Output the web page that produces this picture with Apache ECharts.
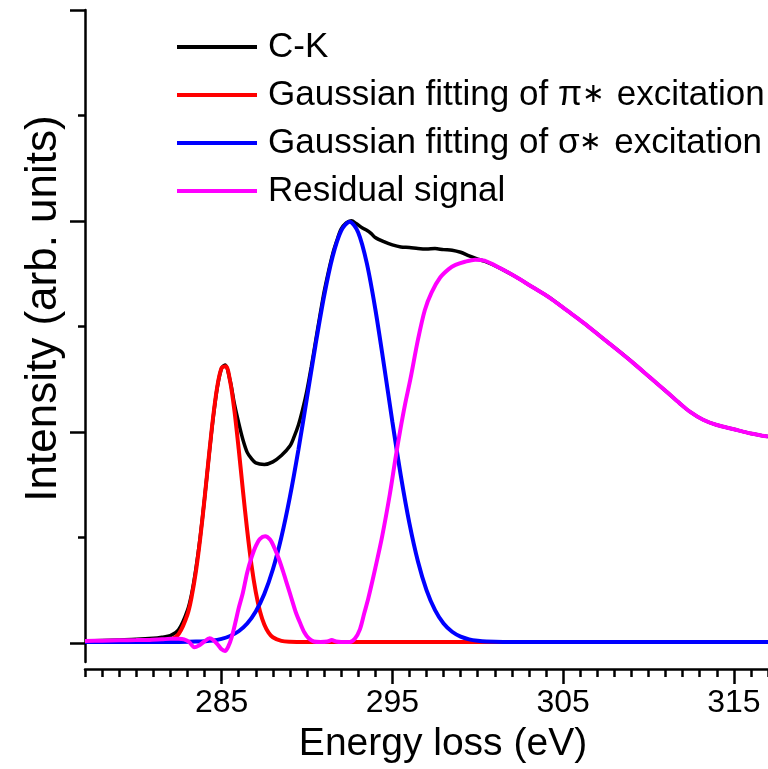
<!DOCTYPE html>
<html>
<head>
<meta charset="utf-8">
<script src="https://cdn.jsdelivr.net/npm/echarts@6/dist/echarts.min.js"></script>
<style>
  html, body { margin: 0; padding: 0; background: #ffffff; }
  #chart { width: 768px; height: 769px; }
</style>
</head>
<body>
<div id="chart"></div>
<script>
// C-K edge EELS spectrum with Gaussian fits of the pi* and sigma* peaks.

const seriesNames = [
  'C-K',
  'Gaussian fitting of \u03c0\u2217 excitation',
  'Gaussian fitting of \u03c3\u2217 excitation',
  'Residual signal'
];
const seriesColors = ['#000000', '#ff0000', '#0000ff', '#ff00ff'];

const xTickLabels = [285, 295, 305, 315];

// Measured C-K edge
const ckEnergy = [277, 278, 279, 280, 281, 281.5, 282, 282.5, 283, 283.25, 283.5, 283.75, 284, 284.25, 284.5, 284.75, 285, 285.2, 285.5, 285.75, 286, 286.25, 286.5, 286.75, 287, 287.5, 288, 288.5, 289, 289.25, 289.5, 289.75, 290, 290.25, 290.5, 290.75, 291, 291.25, 291.5, 291.75, 292, 292.3, 292.6, 292.9, 293.25, 293.5, 293.75, 294, 294.5, 295, 295.5, 296, 296.5, 297, 297.5, 298, 298.5, 299, 299.5, 300, 300.4, 301.3, 302.2, 303.2, 304.2, 305.2, 306.2, 307.2, 308.2, 309.1, 310.1, 311.1, 311.8, 312.4, 313.2, 314, 315, 316, 317];
const ckIntensity = [0.01, 0.015, 0.02, 0.025, 0.035, 0.045, 0.06, 0.12, 0.30, 0.46, 0.70, 1.00, 1.36, 1.75, 2.12, 2.42, 2.60, 2.63, 2.48, 2.26, 2.08, 1.92, 1.80, 1.74, 1.70, 1.685, 1.71, 1.77, 1.86, 1.95, 2.06, 2.21, 2.39, 2.61, 2.85, 3.09, 3.32, 3.51, 3.68, 3.81, 3.92, 3.98, 4.00, 3.97, 3.93, 3.91, 3.88, 3.84, 3.80, 3.77, 3.75, 3.745, 3.735, 3.73, 3.735, 3.725, 3.72, 3.70, 3.665, 3.635, 3.615, 3.55, 3.47, 3.37, 3.27, 3.15, 3.03, 2.90, 2.77, 2.65, 2.51, 2.37, 2.27, 2.19, 2.11, 2.06, 2.02, 1.98, 1.95];

// pi* Gaussian
const piEnergy = [277, 281, 281.5, 282, 282.5, 283, 283.25, 283.5, 283.75, 284, 284.25, 284.5, 284.75, 285, 285.25, 285.5, 285.75, 286, 286.25, 286.5, 286.75, 287, 287.25, 287.5, 287.75, 288, 288.5, 289, 290, 317];
const piIntensity = [0, 0.001, 0.003, 0.018, 0.079, 0.261, 0.433, 0.674, 0.987, 1.358, 1.754, 2.130, 2.428, 2.601, 2.617, 2.474, 2.197, 1.833, 1.436, 1.058, 0.731, 0.475, 0.290, 0.166, 0.089, 0.045, 0.010, 0.002, 0, 0];

// sigma* Gaussian
const sigmaEnergy = [277, 282.5, 283.5, 284.5, 285, 285.5, 286, 286.5, 287, 287.5, 288, 288.5, 289, 289.5, 290, 290.5, 291, 291.5, 292, 292.5, 293, 293.5, 294, 294.5, 295, 295.5, 296, 296.5, 297, 297.5, 298, 298.5, 299, 299.5, 300, 300.5, 301.5, 317];
const sigmaIntensity = [0, 0.001, 0.004, 0.015, 0.030, 0.057, 0.102, 0.175, 0.289, 0.456, 0.688, 0.995, 1.378, 1.827, 2.319, 2.819, 3.282, 3.658, 3.904, 3.99, 3.888, 3.599, 3.163, 2.639, 2.092, 1.575, 1.126, 0.764, 0.492, 0.302, 0.175, 0.097, 0.051, 0.025, 0.012, 0.005, 0.001, 0];

// Residual after removing both Gaussians
const residualEnergy = [277, 278, 279, 280, 280.8, 281.5, 282, 282.5, 282.8, 283.1, 283.4, 283.7, 283.95, 284.3, 284.5, 284.75, 285, 285.2, 285.4, 285.6, 285.8, 286, 286.25, 286.5, 286.75, 287, 287.25, 287.55, 287.85, 288.1, 288.35, 288.6, 288.85, 289.1, 289.35, 289.6, 289.85, 290.1, 290.4, 290.8, 291.2, 291.45, 291.7, 292, 292.5, 292.8, 293.1, 293.35, 293.6, 294, 294.4, 294.85, 295.2, 295.45, 295.75, 296.05, 296.5, 296.9, 297.3, 297.8, 298.3, 298.7, 299.25, 299.85, 300.4, 301.3, 302.2, 303.2, 304.2, 305.2, 306.2, 307.2, 308.2, 309.1, 310.1, 311.1, 311.8, 312.4, 313.2, 314, 315, 316, 317];
const residualIntensity = [0.01, 0.012, 0.016, 0.018, 0.02, 0.025, 0.03, 0.03, 0.025, 0.0, -0.05, -0.03, 0.0, 0.035, 0.02, -0.02, -0.07, -0.085, -0.04, 0.05, 0.18, 0.32, 0.47, 0.66, 0.80, 0.91, 0.98, 1.005, 0.97, 0.89, 0.79, 0.67, 0.54, 0.41, 0.28, 0.18, 0.09, 0.035, 0.005, 0.0, 0.005, 0.018, 0.005, 0.0, 0.0, 0.03, 0.12, 0.27, 0.42, 0.70, 1.00, 1.40, 1.76, 2.00, 2.26, 2.49, 2.87, 3.15, 3.32, 3.46, 3.54, 3.58, 3.61, 3.63, 3.62, 3.55, 3.47, 3.37, 3.27, 3.15, 3.03, 2.90, 2.77, 2.65, 2.51, 2.37, 2.27, 2.19, 2.11, 2.06, 2.02, 1.98, 1.95];

const zip = (xs, ys) => xs.map((x, i) => [x, ys[i]]);
const curves = [
  zip(ckEnergy, ckIntensity),
  zip(piEnergy, piIntensity),
  zip(sigmaEnergy, sigmaIntensity),
  zip(residualEnergy, residualIntensity)
];
const lineWidths = [3.5, 4, 4, 4];

const FONT = '"Liberation Sans", Arial, Helvetica, sans-serif';
const AXIS_W = 2.5;
const black = '#000000';

const chart = echarts.init(document.getElementById('chart'), null, { renderer: 'canvas' });

// Plot area geometry (pixels)
const L = 85, R = 0, T = 10, B = 106;
const X_MIN = 277, X_MAX = 317, Y_MIN = -0.19, Y_MAX = 6;
const pxPerEv = (768 - L - R) / (X_MAX - X_MIN);
const pxPerUnit = (769 - T - B) / (Y_MAX - Y_MIN);

const option = {
  backgroundColor: '#ffffff',
  animation: false,
  textStyle: { fontFamily: FONT },
  legend: {
    orient: 'vertical',
    left: 177,
    top: 27,
    padding: 0,
    itemGap: 8,
    itemWidth: 80,
    itemHeight: 4,
    icon: 'rect',
    data: seriesNames,
    // the asterisk after pi / sigma is set a little smaller
    formatter: name => name.replace('\u2217', '{star|\u2217}'),
    textStyle: {
      fontFamily: FONT,
      fontSize: 35,
      lineHeight: 40,
      color: black,
      padding: [0, 0, 0, 6],
      rich: {
        star: { fontFamily: FONT, fontSize: 27, lineHeight: 40, color: black, padding: [0, 2, 0, 0] }
      }
    }
  },
  grid: [
    // main plotting area
    { left: L, right: R, top: T, bottom: B, containLabel: false },
    // y tick overlay, value 0 at the bottom edge
    { left: L, right: R, top: T, bottom: 769 - (T + Y_MAX * pxPerUnit), containLabel: false },
    // x major tick / label overlay, 285 at the left edge, 315 at the right edge
    { left: L + (285 - X_MIN) * pxPerEv, right: 768 - (L + (315 - X_MIN) * pxPerEv), top: T, bottom: B, containLabel: false }
  ],
  xAxis: [
    {
      gridIndex: 0, type: 'value', min: X_MIN, max: X_MAX, interval: 1,
      offset: 7,
      axisLine: { show: true, onZero: false, lineStyle: { color: black, width: AXIS_W } },
      axisTick: { show: true, length: 8, lineStyle: { color: black, width: AXIS_W } },
      axisLabel: { show: false },
      splitLine: { show: false },
      name: 'Energy loss (eV)',
      nameLocation: 'middle',
      nameGap: 56,
      nameTextStyle: { fontFamily: FONT, fontSize: 39, color: black, padding: [0, 0, 0, 33] }
    },
    {
      gridIndex: 1, type: 'value', min: 0, max: 1, show: false
    },
    {
      gridIndex: 2, type: 'value', min: 285, max: 315, interval: 10,
      offset: 7,
      axisLine: { show: false, onZero: false },
      axisTick: { show: true, length: 14, lineStyle: { color: black, width: AXIS_W } },
      axisLabel: {
        show: true, margin: 17, fontFamily: FONT, fontSize: 32, color: black,
        formatter: v => (xTickLabels.indexOf(v) >= 0 ? String(v) : '')
      },
      splitLine: { show: false }
    }
  ],
  yAxis: [
    {
      gridIndex: 0, type: 'value', min: Y_MIN, max: Y_MAX,
      axisLine: { show: true, onZero: false, lineStyle: { color: black, width: AXIS_W } },
      axisTick: { show: false },
      axisLabel: { show: false },
      splitLine: { show: false },
      name: 'Intensity (arb. units)',
      nameLocation: 'middle',
      nameGap: 19,
      nameTextStyle: { fontFamily: FONT, fontSize: 44, color: black, padding: [0, 0, 0, 55] }
    },
    {
      gridIndex: 1, type: 'value', min: 0, max: Y_MAX, interval: 2,
      axisLine: { show: false, onZero: false },
      axisTick: { show: true, length: 15, lineStyle: { color: black, width: AXIS_W } },
      minorTick: { show: true, splitNumber: 2, length: 7, lineStyle: { color: black, width: AXIS_W } },
      axisLabel: { show: false },
      splitLine: { show: false },
      minorSplitLine: { show: false }
    },
    {
      gridIndex: 2, type: 'value', min: Y_MIN, max: Y_MAX, show: false
    }
  ],
  series: curves.map((data, i) => ({
    name: seriesNames[i],
    type: 'line',
    xAxisIndex: 0,
    yAxisIndex: 0,
    data: data,
    smooth: 0.3,
    symbol: 'none',
    showSymbol: false,
    z: 2 + i,
    color: seriesColors[i],
    lineStyle: { color: seriesColors[i], width: lineWidths[i] }
  }))
};

chart.setOption(option);
</script>
</body>
</html>
